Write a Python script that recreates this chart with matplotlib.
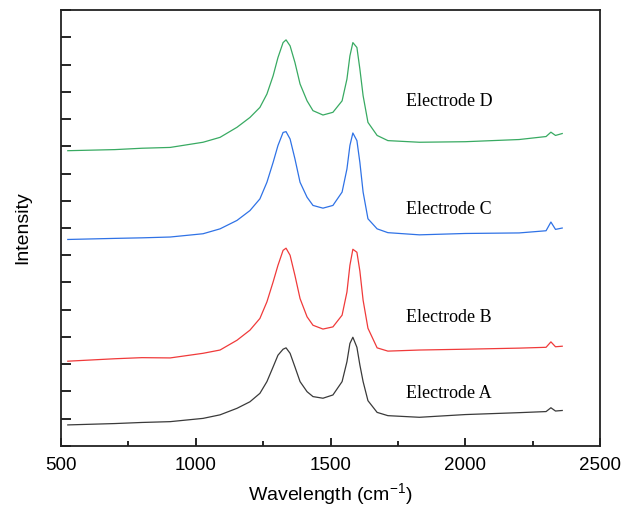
import matplotlib
matplotlib.use("Agg")
import matplotlib.pyplot as plt
from matplotlib.ticker import MultipleLocator, NullFormatter

plt.rcParams['font.family'] = ['Liberation Sans', 'DejaVu Sans']
plt.rcParams['mathtext.fontset'] = 'custom'
plt.rcParams['mathtext.rm'] = 'Liberation Sans'
plt.rcParams['mathtext.default'] = 'regular'

# Raman shift grid (cm-1) and intensities (offset curves)
wavenumber = [525, 700, 800, 905, 1027, 1090, 1153, 1201, 1238, 1264, 1287, 1305,
              1324, 1335, 1350, 1368, 1387, 1413, 1435, 1472, 1509, 1543, 1561,
              1572, 1583, 1598, 1609, 1621, 1639, 1673, 1713,
              1830, 2000, 2200, 2300, 2318, 2335, 2360]

electrode_a = [0.77, 0.82, 0.86, 0.89, 1.01, 1.14, 1.38, 1.62, 1.93, 2.36, 2.90, 3.33,
               3.55, 3.60, 3.40, 2.90, 2.36, 1.99, 1.81, 1.75, 1.87, 2.36, 3.09,
               3.76, 3.99, 3.62, 2.97, 2.36, 1.66, 1.23, 1.11,
               1.05, 1.15, 1.22, 1.26, 1.40, 1.28, 1.30]
electrode_b = [3.11, 3.20, 3.24, 3.23, 3.40, 3.52, 3.88, 4.25, 4.68, 5.29, 6.02, 6.63,
               7.18, 7.26, 7.00, 6.26, 5.41, 4.74, 4.43, 4.29, 4.37, 4.80, 5.65,
               6.63, 7.22, 7.11, 6.42, 5.35, 4.32, 3.60, 3.48,
               3.52, 3.55, 3.59, 3.62, 3.82, 3.64, 3.66]
electrode_c = [7.58, 7.62, 7.64, 7.67, 7.79, 7.97, 8.28, 8.64, 9.07, 9.68, 10.41, 11.03,
               11.51, 11.54, 11.27, 10.54, 9.68, 9.13, 8.83, 8.73, 8.83, 9.32, 10.17,
               11.03, 11.49, 11.21, 10.41, 9.32, 8.34, 7.97, 7.83,
               7.75, 7.80, 7.82, 7.90, 8.22, 7.95, 8.00]
electrode_d = [10.84, 10.88, 10.93, 10.96, 11.15, 11.33, 11.70, 12.06, 12.43, 12.92, 13.59, 14.26,
               14.81, 14.91, 14.69, 14.08, 13.29, 12.67, 12.31, 12.15, 12.25, 12.67, 13.47,
               14.32, 14.81, 14.63, 13.84, 12.86, 11.88, 11.40, 11.21,
               11.15, 11.17, 11.25, 11.36, 11.52, 11.40, 11.47]

labels = ["Electrode A", "Electrode B", "Electrode C", "Electrode D"]
label_y = [1.91, 4.73, 8.68, 12.64]
colors = ["#3a3a3a", "#f03a3a", "#2f72e6", "#38aa62"]

fig = plt.figure(figsize=(6.23, 5.09), dpi=100)
ax = fig.add_axes([0.098, 0.124, 0.865, 0.856])

for series, c in zip([electrode_a, electrode_b, electrode_c, electrode_d], colors):
    ax.plot(wavenumber, series, color=c, lw=0.9)

for lab, y in zip(labels, label_y):
    ax.text(1780, y, lab, family=['Liberation Serif'], fontsize=13, va='center', ha='left')

ax.set_xlim(500, 2500)
ax.set_ylim(0, 16)
ax.xaxis.set_major_locator(MultipleLocator(500))
ax.xaxis.set_minor_locator(MultipleLocator(250))
ax.yaxis.set_major_locator(MultipleLocator(1))
ax.yaxis.set_major_formatter(NullFormatter())

ax.tick_params(axis='x', which='major', direction='in', length=6, width=1.2,
               labelsize=13.5, pad=8)
ax.tick_params(axis='x', which='minor', direction='in', length=3.5, width=1.2)
ax.tick_params(axis='y', which='major', direction='in', length=7, width=1.2)
for sp in ax.spines.values():
    sp.set_linewidth(1.3)
    sp.set_color('#222222')

ax.set_xlabel('Wavelength (cm$^{-1}$)', fontsize=14, labelpad=5)
ax.set_ylabel('Intensity', fontsize=14, labelpad=18)

fig.savefig("out.png", dpi=100)
